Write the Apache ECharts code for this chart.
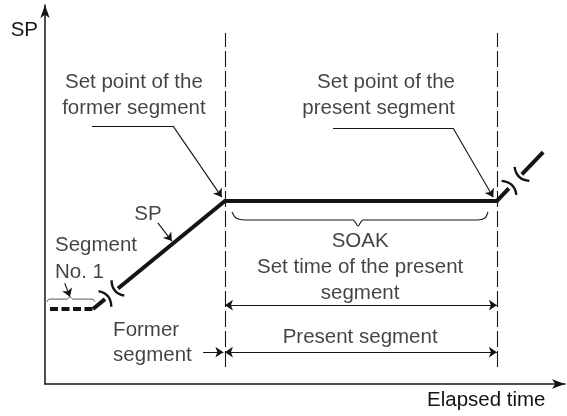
<!DOCTYPE html>
<html>
<head>
<meta charset="utf-8">
<script src="https://cdn.jsdelivr.net/npm/echarts@6/dist/echarts.min.js"></script>
<style>
html,body{margin:0;padding:0;background:#fff;}
#chart{width:567px;height:416px;}
</style>
</head>
<body>
<div id="chart"></div>
<script>
// ---- diagram data (time units 0..100, SP units 0..100) ----
const axisNames = { x: 'Elapsed time', y: 'SP' };
const spSegment1 = [[0.96, 19.8], [9.23, 19.8]];                 // segment No. 1 (dashed)
const spRampIn = [[9.23, 19.8], [11.54, 22.4]];                  // former segment, before break
const spProfile = [[14.04, 25.2], [34.6, 48.3], [86.9, 48.3], [89.2, 51.6]]; // ramp, soak, start of next
const spRampOut = [[91.7, 55.3], [95.8, 61.2]];                  // next segment after break
const segmentBounds = [34.6, 86.9];
const boundExtent = [4.5, 92.6];
const soakDimY = 20.8;
const presentDimY = 8.4;
const formerArrowStart = 30.4;
const breakMarks = [
  [[10.3, 24.5], [12.75, 20.4]], [[12.8, 27.4], [15.25, 23.3]],
  [[87.8, 53.6], [90.65, 49.9]], [[90.3, 57.3], [93.15, 53.6]]
];
const soakBrace = [[35.96, 45.38], [36.73, 43.8], [38.46, 43.27], [59.23, 43.27], [60.19, 41.69],
  [61.15, 43.27], [83.08, 43.27], [84.62, 43.8], [85.19, 45.38]];
const seg1Brace = [[0.38, 21.6], [0.77, 22.4], [4.23, 22.4], [4.81, 22.96], [5.38, 22.4], [9.23, 22.4], [9.62, 21.6]];
const leaderFormer = [[9.04, 68.1], [24.6, 68.1], [34.0, 49.3]];
const leaderPresent = [[55.4, 67.5], [78.5, 67.5], [86.2, 49.3]];
const leaderSP = [[21.7, 42.5], [24.4, 37.7]];
const leaderSeg1 = [[3.8, 26.6], [4.8, 23.0]];
const labelTexts = {
  former: 'Set point of the\nformer segment',
  present: 'Set point of the\npresent segment',
  sp: 'SP',
  seg1: 'Segment\nNo. 1',
  soak: 'SOAK\nSet time of the present\nsegment',
  presentSeg: 'Present segment',
  formerSeg: 'Former\nsegment'
};

// ---- rendering ----
const ink = '#141414';
const font = '"Liberation Sans", Arial, Helvetica, sans-serif';
const fs = 20.5;

function txt(key, x, y, pos, lh) {
  return {
    value: [x, y],
    label: {
      show: true, formatter: labelTexts[key], position: pos, distance: 0,
      color: ink, fontFamily: font, fontSize: fs, lineHeight: lh || 26,
      align: pos === 'inside' ? 'center' : undefined
    }
  };
}

// split a leader polyline into plain pieces plus a final arrowed piece
function leaderPieces(pts) {
  const plain = [], arrowed = [];
  for (let i = 0; i < pts.length - 1; i++) {
    const item = { coords: [pts[i], pts[i + 1]] };
    if (i === pts.length - 2) arrowed.push(item); else plain.push(item);
  }
  return { plain, arrowed };
}
const leaders = [leaderFormer, leaderPresent, leaderSP, leaderSeg1].map(leaderPieces);

const chart = echarts.init(document.getElementById('chart'), null, { renderer: 'canvas' });
const axisCommon = {
  type: 'value', min: 0, max: 100,
  axisTick: { show: false }, axisLabel: { show: false }, splitLine: { show: false },
  axisLine: { show: true, onZero: false, symbol: ['none', 'arrow'], symbolSize: [7, 13],
    lineStyle: { color: ink, width: 1.5 } },
  nameTextStyle: { color: ink, fontFamily: font, fontSize: fs }
};
const thin = { color: ink, width: 1.1, opacity: 1 };

chart.setOption({
  backgroundColor: '#ffffff',
  animation: false,
  grid: { left: 45, top: 5, right: 2, bottom: 32 },
  xAxis: Object.assign({}, axisCommon, {
    name: axisNames.x, nameLocation: 'end', nameGap: -138,
    nameTextStyle: { color: ink, fontFamily: font, fontSize: fs, verticalAlign: 'top', padding: [6, 0, 0, 0] }
  }),
  yAxis: Object.assign({}, axisCommon, {
    name: axisNames.y, nameLocation: 'end', nameGap: -36,
    nameTextStyle: { color: ink, fontFamily: font, fontSize: fs, align: 'right', padding: [0, 7, 0, 0] }
  }),
  series: [
    { type: 'lines', coordinateSystem: 'cartesian2d', silent: true, z: 1,
      lineStyle: { color: ink, width: 1.1, type: [16, 4], opacity: 1 },
      data: segmentBounds.map(x => ({ coords: [[x, boundExtent[0]], [x, boundExtent[1]]] })) },
    { type: 'line', data: spSegment1, symbol: 'none', z: 5,
      lineStyle: { color: ink, width: 4, type: [8, 3.5] } },
    { type: 'line', data: spRampIn, symbol: 'none', z: 5, lineStyle: { color: ink, width: 4 } },
    { type: 'line', data: spProfile, symbol: 'none', z: 5, lineStyle: { color: ink, width: 4, join: 'miter' } },
    { type: 'line', data: spRampOut, symbol: 'none', z: 5, lineStyle: { color: ink, width: 4 } },
    { type: 'lines', coordinateSystem: 'cartesian2d', silent: true, z: 6,
      lineStyle: { color: ink, width: 2.4, opacity: 1 },
      data: breakMarks.map((c, i) => ({ coords: c, lineStyle: { curveness: i % 2 ? -0.4 : 0.4 } })) },
    { type: 'line', data: soakBrace, symbol: 'none', smooth: 0.25, z: 4, lineStyle: { color: ink, width: 1.1 } },
    { type: 'line', data: seg1Brace, symbol: 'none', smooth: 0.25, z: 4, lineStyle: { color: '#555', width: 1 } },
    { type: 'lines', coordinateSystem: 'cartesian2d', silent: true, z: 4,
      symbol: ['none', 'none'], lineStyle: thin,
      data: [].concat(...leaders.map(l => l.plain)) },
    { type: 'lines', coordinateSystem: 'cartesian2d', silent: true, z: 4,
      symbol: ['none', 'arrow'], symbolSize: 8, lineStyle: thin,
      data: [].concat(...leaders.map(l => l.arrowed)) },
    { type: 'lines', coordinateSystem: 'cartesian2d', silent: true, z: 4,
      symbol: ['arrow', 'arrow'], symbolSize: 8, lineStyle: thin,
      data: [
        { coords: [[segmentBounds[0], soakDimY], [segmentBounds[1], soakDimY]] },
        { coords: [[segmentBounds[0], presentDimY], [segmentBounds[1], presentDimY]] }
      ] },
    { type: 'lines', coordinateSystem: 'cartesian2d', silent: true, z: 4,
      symbol: ['none', 'arrow'], symbolSize: 8, lineStyle: thin,
      data: [{ coords: [[formerArrowStart, presentDimY], [segmentBounds[0] - 0.3, presentDimY]] }] },
    { type: 'scatter', symbolSize: 0, silent: true, z: 10,
      data: [
        txt('former', 17.1, 76.25, 'inside', 26),
        txt('present', 78.85, 76.25, 'left', 26),
        txt('sp', 19.8, 44.85, 'inside', 24),
        txt('seg1', 1.92, 33.1, 'right', 27),
        txt('soak', 60.6, 30.9, 'inside', 26),
        txt('presentSeg', 60.6, 12.4, 'inside', 24),
        txt('formerSeg', 13.1, 10.95, 'right', 25)
      ] }
  ]
});
</script>
</body>
</html>
